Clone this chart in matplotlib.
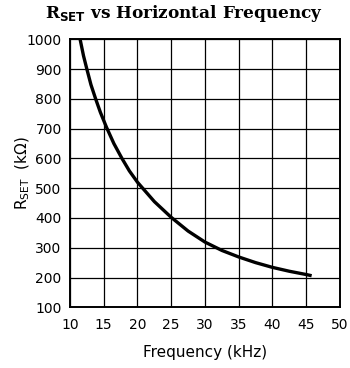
import matplotlib
matplotlib.use("Agg")
import matplotlib.pyplot as plt

# readings from the reference curve
freq_khz = [11.5, 12.0, 12.5, 13.1, 13.8, 14.5, 15.4, 16.5, 17.7, 18.8,
            20.0, 22.5, 25.0, 27.5, 30.0, 32.5, 35.0, 37.5, 40.0, 42.5,
            45.0, 45.8]
rset_kohm = [1000, 945, 900, 848, 800, 755, 705, 650, 600, 558,
             520, 455, 402, 356, 319, 291, 269, 250, 234, 221,
             210, 206]

x_ticks = list(range(10, 51, 5))
y_ticks = list(range(100, 1001, 100))

plt.rcParams['font.family'] = ['DejaVu Sans']

fig = plt.figure(figsize=(3.5, 3.68), dpi=100)
ax = fig.add_axes([0.2, 0.165, 0.7714, 0.728])

ax.plot(freq_khz, rset_kohm, color='black', lw=2.4, solid_capstyle='butt',
        solid_joinstyle='round', zorder=3)

ax.set_xlim(10, 50)
ax.set_ylim(100, 1000)
ax.set_xticks(x_ticks)
ax.set_yticks(y_ticks)
ax.tick_params(axis='both', length=0, labelsize=10)
ax.tick_params(axis='x', pad=8)
ax.tick_params(axis='y', pad=6)
ax.grid(True, color='black', lw=0.9)
for s in ax.spines.values():
    s.set_linewidth(1.4)

ax.set_xlabel('Frequency (kHz)', fontsize=11, labelpad=9)
ax.set_ylabel(r'R$_{\mathregular{SET}}$  (k$\Omega$)', fontsize=11, labelpad=-4)

fig.text(0.527, 0.962, r'R$_{\mathbf{SET}}$ vs Horizontal Frequency',
         ha='center', va='center', fontsize=12.2, fontweight='bold',
         family='DejaVu Serif')

fig.savefig('out.png', dpi=100)
